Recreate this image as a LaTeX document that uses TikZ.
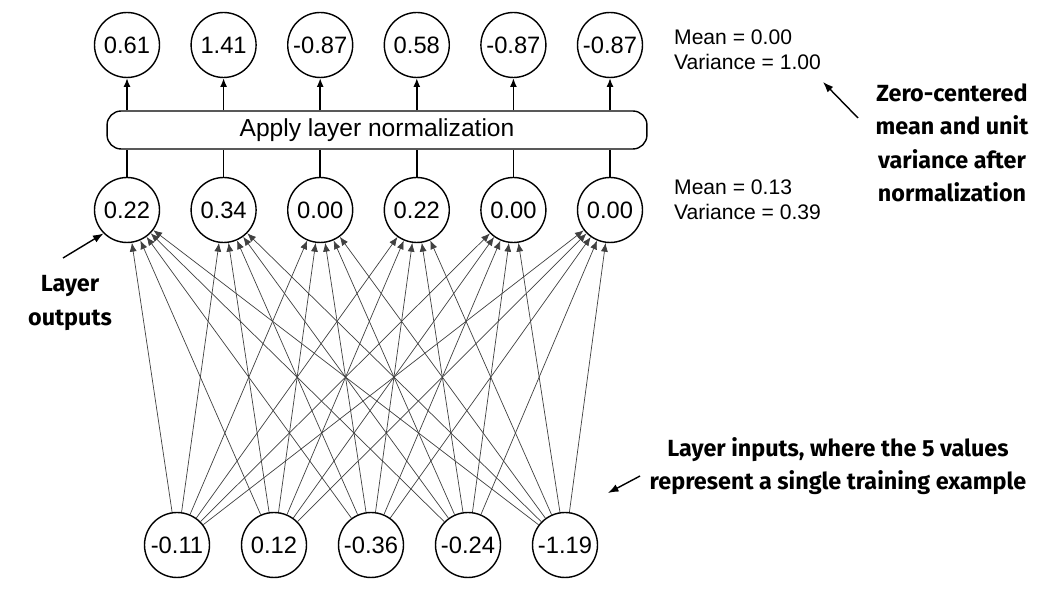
\documentclass[tikz,border=0pt]{standalone}
\usepackage{fontspec}
\setmainfont{Liberation Sans}
\newfontfamily\notefont{Fira Sans}
\usetikzlibrary{arrows.meta}

\tikzset{
  unit/.style={circle, draw, thick, minimum size=1.3cm, inner sep=0pt, font=\fontsize{13.5}{16}\selectfont},
  link/.style={draw=black!75, -{Latex[length=5pt,width=4pt]}},
  note/.style={font=\notefont\bfseries\fontsize{13.3}{19}\selectfont, align=center},
  stat/.style={font=\fontsize{12}{14}\selectfont, align=left, anchor=west}
}

\begin{document}
\begin{tikzpicture}[x=0.02cm, y=-0.02cm]
    \useasboundingbox (0,0) rectangle (1042,590);
    % output layer
    \foreach \v [count=\i] in {0.61,1.41,-0.87,0.58,-0.87,-0.87}
        \node[unit] (o\i) at ({127+96.6*(\i-1)},45) {\v};
    % normalization box
    \node[draw, thick, rounded corners=8pt, minimum width=10.8cm, minimum height=0.76cm,
          font=\fontsize{14}{17}\selectfont] (norm) at (377,130) {Apply layer normalization};
    % layer outputs
    \foreach \v [count=\i] in {0.22,0.34,0.00,0.22,0.00,0.00}
        \node[unit] (h\i) at ({127+96.6*(\i-1)},210) {\v};
    % inputs
    \foreach \v [count=\i] in {-0.11,0.12,-0.36,-0.24,-1.19}
        \node[unit] (x\i) at ({177+97*(\i-1)},545) {\v};
    \foreach \i in {1,...,6} {
        \draw[thick] (h\i.north) -- (h\i.north |- norm.south);
        \draw[thick, -{Latex[length=5pt,width=4pt]}] (o\i.south |- norm.north) -- (o\i.south);
    }
    \foreach \j in {1,...,5}
        \foreach \i in {1,...,6}
            \draw[link] (x\j) -- (h\i);
    % statistics
    \node[stat] (s1) at (668,50) {Mean = 0.00\\Variance = 1.00};
    \node[stat] (s2) at (668,200) {Mean = 0.13\\Variance = 0.39};
    % notes
    \node[note] (n1) at (952,143) {Zero-centered\\mean and unit\\variance after\\normalization};
    \coordinate (n1a) at (823,82);
    \draw[thick, -{Latex[length=6pt]}] (858,118) -- (n1a);
    \node[note] (n2) at (70,303) {Layer\\outputs};
    \draw[thick, -{Latex[length=6pt]}] (63,258) -- (h1.south west);
    \node[note] (n3) at (838,466) {Layer inputs, where the 5 values\\represent a single training example};
    \coordinate (n3a) at (608,493);
    \draw[thick, -{Latex[length=6pt]}] (640,476) -- (n3a);
\end{tikzpicture}
\end{document}
